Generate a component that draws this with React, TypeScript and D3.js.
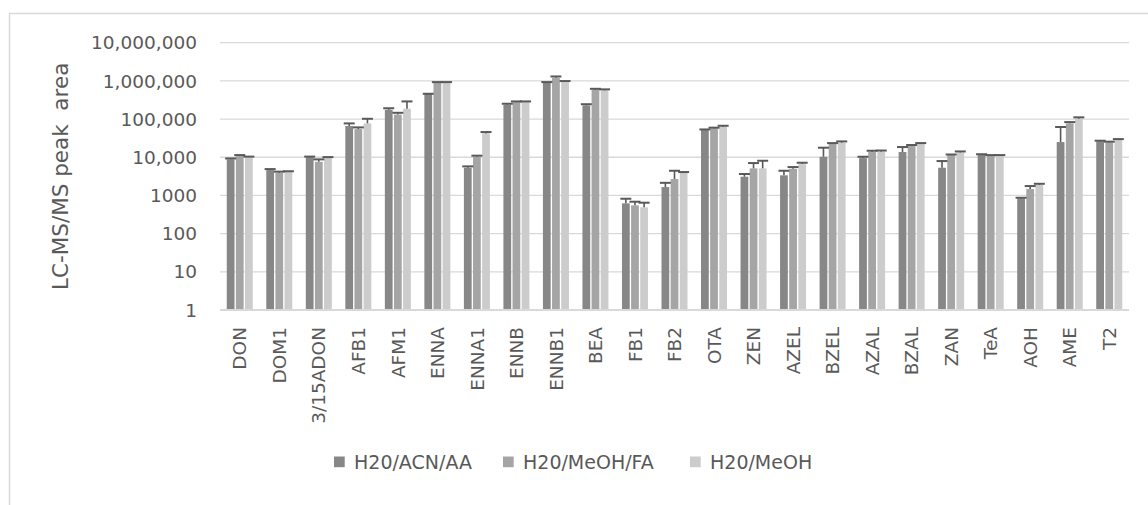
import React from "react";
import * as d3 from "d3";

const categories = ["DON","DOM1","3/15ADON","AFB1","AFM1","ENNA","ENNA1","ENNB","ENNB1","BEA","FB1","FB2","OTA","ZEN","AZEL","BZEL","AZAL","BZAL","ZAN","TeA","AOH","AME","T2"];
const seriesNames = ["H20/ACN/AA","H20/MeOH/FA","H20/MeOH"];
const valuesACN = [8800,4600,10000,65600,175000,460000,5300,237000,893000,228000,621,1660,51500,3090,3360,10300,9500,13700,5320,11600,838,25000,26000];
const errorsACN = [500,300,400,11400,17000,0,470,15000,37000,17000,199,480,2000,550,1070,7500,800,4800,2630,400,32,36900,1100];
const valuesMeOHFA = [10700,3930,7600,54700,131000,893000,10300,279000,1210000,585000,550,2690,56900,5120,5000,22200,13700,19600,11400,11000,1470,77000,24500];
const errorsMeOHFA = [700,270,1200,5800,15000,37000,700,11000,96000,35000,135,1740,2600,1930,540,1300,1100,1300,400,400,290,6300,1100];
const valuesMeOH = [10100,4170,9700,77000,186000,893000,42200,279000,930000,563000,488,3930,63000,5120,6610,24000,14000,22200,13400,11000,1900,102000,28200];
const errorsMeOH = [300,130,400,24800,104000,37000,3500,11000,60000,37000,157,170,3800,2980,570,2000,1000,1300,800,400,120,9000,1700];
const tickValues = [1,10,100,1000,10000,100000,1000000,10000000];
const tickLabels = ["1","10","100","1000","10,000","100,000","1,000,000","10,000,000"];
const yTitle = "LC-MS/MS peak  area";

const colors = ["#878787","#a5a5a5","#cccccc"];
const textColor = "#595959";
const gridColor = "#d9d9d9";
const font = "'DejaVu Sans', sans-serif";

export default function App() {
  const W = 1148, H = 505;
  const left = 220, right = 1129, top = 42.7, bottom = 310;
  const x = d3.scaleBand<string>().domain(categories).range([left, right]).padding(0);
  const y = d3.scaleLog().domain([1, 1e7]).range([bottom, top]);
  const inner = d3.scaleBand<number>().domain([0,1,2]).range([-13, 13]).paddingInner(0.15).paddingOuter(0);
  const series = [
    { name: seriesNames[0], values: valuesACN, errors: errorsACN },
    { name: seriesNames[1], values: valuesMeOHFA, errors: errorsMeOHFA },
    { name: seriesNames[2], values: valuesMeOH, errors: errorsMeOH },
  ];
  const capW = 11;
  const legendX = [334, 503, 690];
  return (
    <svg width={W} height={H} style={{ position: "absolute", left: 0, top: 0, background: "#fff" }}>
      <rect x={9.5} y={13.5} width={1200} height={600} fill="#fff" stroke={gridColor} strokeWidth={1.5} />
      {tickValues.map((t, i) => (
        <g key={t}>
          {i > 0 && <line x1={left} x2={right} y1={y(t)} y2={y(t)} stroke={gridColor} strokeWidth={1.3} />}
          <text x={197} y={y(t)} dy="0.36em" textAnchor="end" fill={textColor} fontFamily={font} fontSize={18.5}>{tickLabels[i]}</text>
        </g>
      ))}
      <text transform={`translate(60,${(top + bottom) / 2}) rotate(-90)`} textAnchor="middle" dy="0.36em" fill={textColor} fontFamily={font} fontSize={21.5} style={{ whiteSpace: "pre" }}>{yTitle}</text>
      {series.map((s, si) => (
        <g key={s.name}>
          {categories.map((c, ci) => {
            const cx = (x(c) as number) + x.bandwidth() / 2;
            const bx = cx + (inner(si) as number);
            const bw = inner.bandwidth();
            const v = s.values[ci];
            return (
              <rect key={c} x={bx} y={y(v)} width={bw} height={bottom - y(v)} fill={colors[si]} />
            );
          })}
        </g>
      ))}
      {series.map((s, si) => (
        <g key={s.name + "err"} stroke="#595959">
          {categories.map((c, ci) => {
            const cx = (x(c) as number) + x.bandwidth() / 2;
            const mx = cx + (inner(si) as number) + inner.bandwidth() / 2;
            const v = s.values[ci];
            const e = v + s.errors[ci];
            return (
              <g key={c}>
                <line x1={mx} x2={mx} y1={y(v)} y2={y(e)} strokeWidth={1.6} />
                <line x1={mx - capW / 2} x2={mx + capW / 2} y1={y(e)} y2={y(e)} strokeWidth={2} />
              </g>
            );
          })}
        </g>
      ))}
      <line x1={left} x2={right} y1={bottom} y2={bottom} stroke={gridColor} strokeWidth={2} />
      {categories.map((c) => {
        const cx = (x(c) as number) + x.bandwidth() / 2;
        return (
          <text key={c} transform={`translate(${cx},327) rotate(-90)`} textAnchor="end" dy="0.36em" fill={textColor} fontFamily={font} fontSize={18.5}>{c}</text>
        );
      })}
      {seriesNames.map((n, i) => (
        <g key={n}>
          <rect x={legendX[i]} y={456.5} width={10.7} height={10.7} fill={colors[i]} />
          <text x={legendX[i] + 20} y={462} dy="0.36em" fill={textColor} fontFamily={font} fontSize={19}>{n}</text>
        </g>
      ))}
    </svg>
  );
}
